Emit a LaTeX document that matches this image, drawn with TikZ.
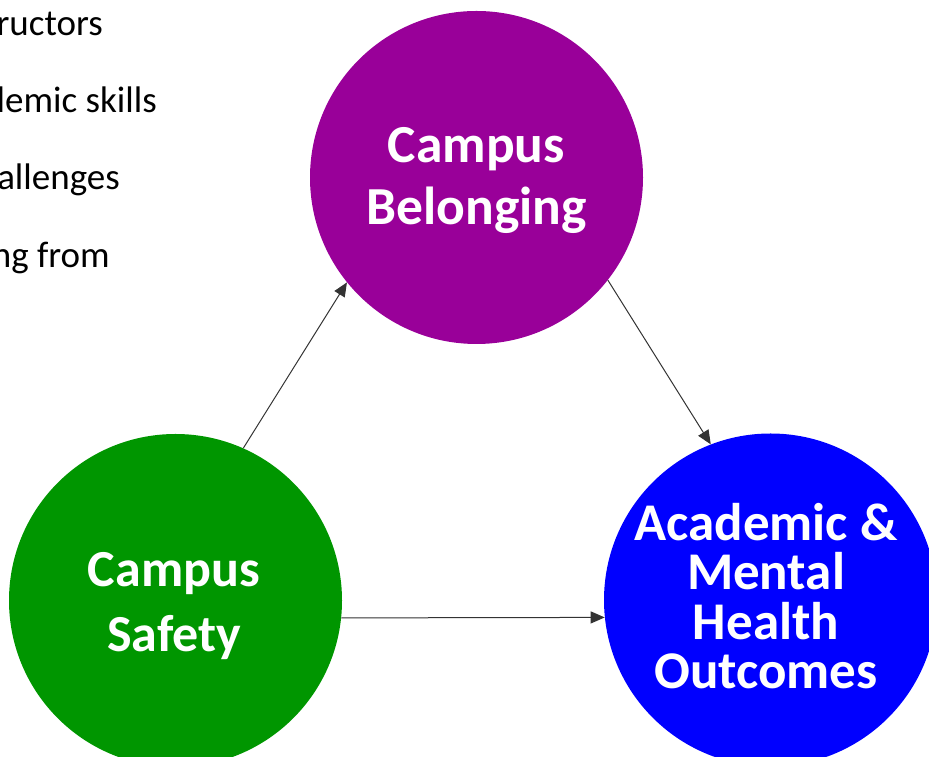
\documentclass[tikz,border=0pt]{standalone}
\usepackage{fontspec}
\setmainfont{Carlito}
\usetikzlibrary{arrows.meta}
\definecolor{belongC}{RGB}{153,0,153}
\definecolor{safeC}{RGB}{0,150,0}
\definecolor{outC}{RGB}{0,0,255}
\newcommand{\RD}{333pt}

\begin{document}
\begin{tikzpicture}[
    x=1pt, y=1pt,
    hub/.style={circle, minimum size=\RD, inner sep=0pt, text=white, align=center},
    hubtext/.style={text=white, align=center},
    link/.style={draw=black!80, line width=1pt, -{Triangle[length=14pt, width=12pt]}},
    bullet/.style={anchor=base east, inner sep=0pt, font=\fontsize{37}{44}\selectfont},
  ]
  \clip (0,0) rectangle (929,757);

  % list fragments on the left
  \node[bullet] (l1) at (103,721) {ructors};
  \node[bullet] (l2) at (157,644) {demic skills};
  \node[bullet] (l3) at (120,567) {allenges};
  \node[bullet] (l4) at (110,489) {ng from};

  % the three constructs
  \node[hub, fill=belongC] (belong) at (476.5,579.5) {};
  \node[hub, fill=safeC] (safety) at (175.5,156.5) {};
  \node[hub, fill=outC] (outcome) at (770.5,157) {};
  \node[hubtext, font=\bfseries\fontsize{53.5}{62}\selectfont] (belongtext) at (476.5,577) {Campus\\Belonging};
  \node[hubtext, font=\bfseries\fontsize{52}{65}\selectfont] (safetytext) at (174,151) {Campus\\Safety};
  \node[hubtext, font=\bfseries\fontsize{53}{49.5}\selectfont] (outtext) at (766,161) {Academic \&\\Mental\\Health\\Outcomes};

  % paths between them
  \draw[link] (safety.66) -- (belong.219.3);
  \draw[link] (belong.-38.6) -- (outcome.111);
  \draw[link] (safety.-6.4) -- (outcome.186.4);
\end{tikzpicture}
\end{document}
